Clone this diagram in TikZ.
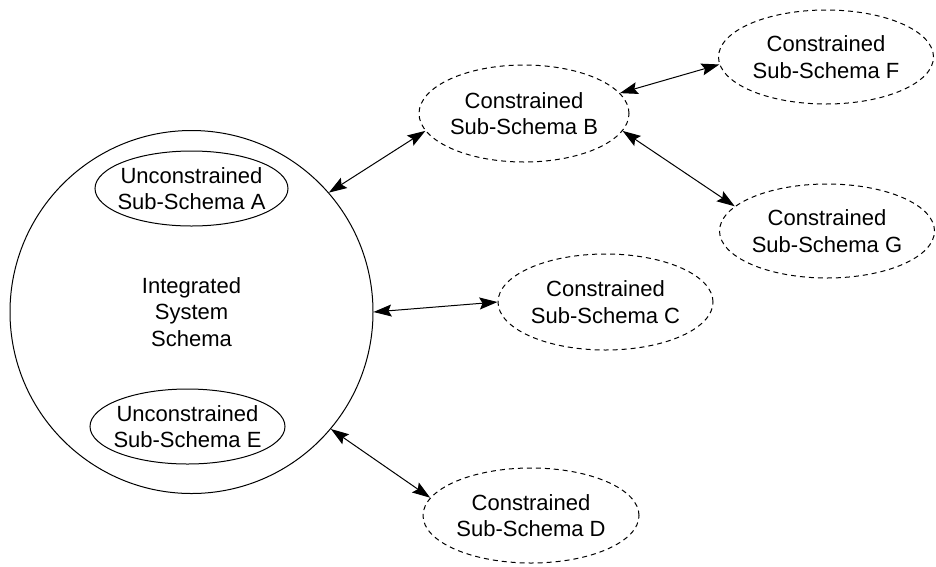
\documentclass[tikz,border=0pt]{standalone}
\usepackage{fontspec}
\setmainfont{Liberation Sans}
\usetikzlibrary{shapes.geometric,arrows.meta}
\begin{document}
\begin{tikzpicture}[x=1pt,y=-1pt,
  lbl/.style={font=\fontsize{22}{26.7}\selectfont, align=center},
  solidell/.style={ellipse, draw, line width=1pt, inner xsep=-12pt, inner ysep=0pt, lbl},
  dashell/.style={ellipse, draw, line width=1pt, dash pattern=on 5pt off 4pt, inner xsep=-12pt, inner ysep=0pt, lbl},
  link/.style={line width=1pt, {Stealth[length=18pt,width=12pt,inset=3pt]}-{Stealth[length=18pt,width=12pt,inset=3pt]}}
]
\useasboundingbox (0,0) rectangle (936,566);
\node[circle, draw, line width=1pt, minimum size=363pt, inner sep=0pt, lbl] (sys) at (191.5,312) {Integrated\\System\\Schema};
\node[solidell, minimum width=193pt, minimum height=75pt] (A) at (191.5,188.5) {Unconstrained\\Sub-Schema A};
\node[solidell, minimum width=195pt, minimum height=75pt] (E) at (187.5,426.5) {Unconstrained\\Sub-Schema E};
\node[dashell, minimum width=210pt, minimum height=97pt] (B) at (524,113.5) {Constrained\\Sub-Schema B};
\node[dashell, minimum width=215pt, minimum height=96pt] (C) at (605.5,302) {Constrained\\Sub-Schema C};
\node[dashell, minimum width=216pt, minimum height=95pt] (D) at (531,515.5) {Constrained\\Sub-Schema D};
\node[dashell, minimum width=215pt, minimum height=94pt] (F) at (826,57) {Constrained\\Sub-Schema F};
\node[dashell, minimum width=215pt, minimum height=94pt] (G) at (827,231) {Constrained\\Sub-Schema G};
\draw[link] (sys.41) -- (B.190);
\draw[link] (sys.0) -- (C.180);
\draw[link] (sys.-40) -- (D.170);
\draw[link] (B.12) -- (F.184.5);
\draw[link] (B.-10) -- (G.165.5);
\end{tikzpicture}
\end{document}
